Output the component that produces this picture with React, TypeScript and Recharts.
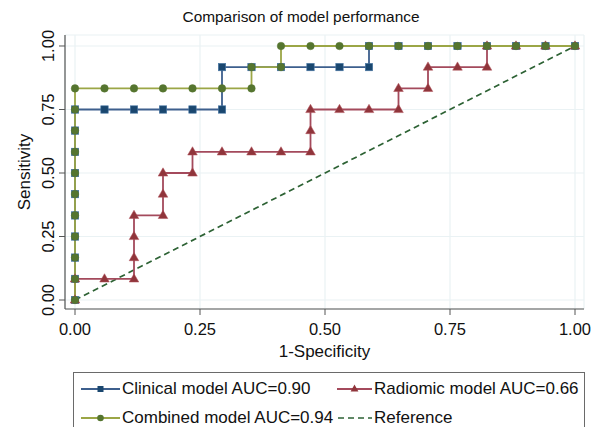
import React from 'react';
import { LineChart, Line, XAxis, YAxis, CartesianGrid, Legend, Customized } from 'recharts';

const FONT = '"Liberation Sans", Arial, Helvetica, sans-serif';

const TITLE = 'Comparison of model performance';
const X_LABEL = '1-Specificity';
const Y_LABEL = 'Sensitivity';
const TICKS = [0, 0.25, 0.5, 0.75, 1];

const clinicalFpr = [0, 0, 0, 0, 0, 0, 0, 0, 0, 0, 0.059, 0.118, 0.176, 0.235, 0.294, 0.294, 0.353, 0.412, 0.471, 0.529, 0.588, 0.588, 0.647, 0.706, 0.765, 0.824, 0.882, 0.941, 1];
const clinicalTpr = [0, 0.083, 0.167, 0.25, 0.333, 0.417, 0.5, 0.583, 0.667, 0.75, 0.75, 0.75, 0.75, 0.75, 0.75, 0.917, 0.917, 0.917, 0.917, 0.917, 0.917, 1, 1, 1, 1, 1, 1, 1, 1];

const radiomicFpr = [0, 0, 0.059, 0.118, 0.118, 0.118, 0.118, 0.176, 0.176, 0.176, 0.235, 0.235, 0.294, 0.353, 0.412, 0.471, 0.471, 0.471, 0.529, 0.588, 0.647, 0.647, 0.706, 0.706, 0.765, 0.824, 0.824, 0.882, 0.941, 1];
const radiomicTpr = [0, 0.083, 0.083, 0.083, 0.167, 0.25, 0.333, 0.333, 0.417, 0.5, 0.5, 0.583, 0.583, 0.583, 0.583, 0.583, 0.667, 0.75, 0.75, 0.75, 0.75, 0.833, 0.833, 0.917, 0.917, 0.917, 1, 1, 1, 1];

const combinedFpr = [0, 0, 0, 0, 0, 0, 0, 0, 0, 0, 0, 0.059, 0.118, 0.176, 0.235, 0.294, 0.353, 0.353, 0.412, 0.412, 0.471, 0.529, 0.588, 0.647, 0.706, 0.765, 0.824, 0.882, 0.941, 1];
const combinedTpr = [0, 0.083, 0.167, 0.25, 0.333, 0.417, 0.5, 0.583, 0.667, 0.75, 0.833, 0.833, 0.833, 0.833, 0.833, 0.833, 0.833, 0.917, 0.917, 1, 1, 1, 1, 1, 1, 1, 1, 1, 1, 1];

const referenceFpr = [0, 1];
const referenceTpr = [0, 1];

const zip = (xs: number[], ys: number[]) => xs.map((x, i) => ({ x, y: ys[i] }));

const clinicalData = zip(clinicalFpr, clinicalTpr);
const radiomicData = zip(radiomicFpr, radiomicTpr);
const combinedData = zip(combinedFpr, combinedTpr);
const referenceData = zip(referenceFpr, referenceTpr);

const COLORS = {
  clinicalLine: '#3d5f8d',
  clinicalMarker: '#1a476f',
  radiomicLine: '#a44a5c',
  radiomicMarker: '#90353b',
  combinedLine: '#9ba646',
  combinedMarker: '#55752f',
  reference: '#2d6234',
};

const LEGEND_ITEMS = [
  { label: 'Clinical model AUC=0.90', line: COLORS.clinicalLine, marker: COLORS.clinicalMarker, shape: 'square', col: 0, row: 0 },
  { label: 'Radiomic model AUC=0.66', line: COLORS.radiomicLine, marker: COLORS.radiomicMarker, shape: 'triangle', col: 1, row: 0 },
  { label: 'Combined model AUC=0.94', line: COLORS.combinedLine, marker: COLORS.combinedMarker, shape: 'circle', col: 0, row: 1 },
  { label: 'Reference', line: COLORS.reference, marker: '', shape: 'dash', col: 1, row: 1 },
];

const Marker = ({ shape, cx, cy, fill, stroke }: any) => {
  if (cx == null || cy == null) return null;
  if (shape === 'square') {
    return <rect x={cx - 3.7} y={cy - 3.7} width={7.4} height={7.4} fill={fill} stroke={stroke} strokeWidth={0.6} />;
  }
  if (shape === 'triangle') {
    return <polygon points={`${cx},${cy - 5.2} ${cx + 4.8},${cy + 3.1} ${cx - 4.8},${cy + 3.1}`} fill={fill} stroke={stroke} strokeWidth={0.5} />;
  }
  return <circle cx={cx} cy={cy} r={3.8} fill={fill} stroke={stroke} strokeWidth={0.4} />;
};

const makeDot = (shape: string, fill: string, stroke: string) => (props: any) => (
  <Marker key={`${shape}-${props.index}`} shape={shape} cx={props.cx} cy={props.cy} fill={fill} stroke={stroke} />
);

const YTick = (props: any) => {
  const { x, y, payload } = props;
  return (
    <text transform={`translate(${x - 3.5},${y}) rotate(-90)`} textAnchor="middle" fontFamily={FONT} fontSize={16.5} fill="#111">
      {Number(payload.value).toFixed(2)}
    </text>
  );
};

const XTick = (props: any) => {
  const { x, y, payload } = props;
  return (
    <text x={x} y={y + 18} textAnchor="middle" fontFamily={FONT} fontSize={16.5} fill="#111">
      {Number(payload.value).toFixed(2)}
    </text>
  );
};

const LegendBox = () => (
  <div
    style={{
      width: 512,
      height: 62,
      border: '1px solid #6a6a6a',
      boxSizing: 'border-box',
      position: 'relative',
      background: '#fff',
      fontFamily: FONT,
      fontSize: 17,
      color: '#111',
    }}
  >
    {LEGEND_ITEMS.map((it) => {
      const left = it.col === 0 ? 7 : 263;
      const symW = it.col === 0 ? 39 : 35;
      const top = it.row === 0 ? 6 : 35;
      return (
        <div key={it.label} style={{ position: 'absolute', left, top, height: 20, display: 'flex', alignItems: 'center', whiteSpace: 'nowrap' }}>
          <svg width={symW} height={20} style={{ display: 'block' }}>
            {it.shape === 'dash' ? (
              <line x1={1} y1={10} x2={symW} y2={10} stroke={it.line} strokeWidth={1.6} strokeDasharray="6 4" />
            ) : (
              <>
                <line x1={0} y1={10} x2={symW} y2={10} stroke={it.line} strokeWidth={1.8} />
                {it.shape === 'square' && <rect x={symW / 2 - 3} y={7} width={6} height={6} fill={it.marker} />}
                {it.shape === 'triangle' && <polygon points={`${symW / 2},${5.6} ${symW / 2 + 3.9},${12.4} ${symW / 2 - 3.9},${12.4}`} fill={it.marker} />}
                {it.shape === 'circle' && <circle cx={symW / 2} cy={10} r={3.3} fill={it.marker} />}
              </>
            )}
          </svg>
          <span style={{ marginLeft: 2, lineHeight: '20px' }}>{it.label}</span>
        </div>
      );
    })}
  </div>
);

const Title = () => (
  <text x={301} y={22} textAnchor="middle" fontFamily={FONT} fontSize={15.4} fill="#111">
    {TITLE}
  </text>
);

export default function App() {
  return (
    <div style={{ position: 'absolute', left: 0, top: 0, width: 602, height: 427, background: '#fff', overflow: 'hidden' }}>
      <LineChart width={602} height={427} margin={{ top: 35, right: 18, bottom: 0, left: 0 }}>
        <CartesianGrid stroke="#eaf2f4" strokeWidth={1.2} />
        <XAxis
          type="number"
          dataKey="x"
          domain={[-0.02, 1.018]}
          ticks={TICKS}
          allowDataOverflow
          height={118}
          tickSize={6}
          tickMargin={2}
          stroke="#555"
          tickLine={{ stroke: '#555' }}
          axisLine={{ stroke: '#555', strokeWidth: 1.2 }}
          tick={<XTick />}
          label={(p: any) => {
            const vb = p.viewBox || { x: 65, y: 309, width: 519 };
            return (
              <text x={vb.x + vb.width / 2} y={vb.y + 48} textAnchor="middle" fontFamily={FONT} fontSize={17} fill="#111">
                {X_LABEL}
              </text>
            );
          }}
        />
        <YAxis
          type="number"
          dataKey="y"
          domain={[-0.0354, 1.0433]}
          ticks={TICKS}
          allowDataOverflow
          width={65}
          tickSize={6}
          tickMargin={2}
          stroke="#555"
          tickLine={{ stroke: '#555' }}
          axisLine={{ stroke: '#555', strokeWidth: 1.2 }}
          tick={<YTick />}
          label={(p: any) => {
            const vb = p.viewBox || { x: 0, y: 35, width: 65, height: 274 };
            return (
              <text transform={`translate(30,${vb.y + vb.height / 2}) rotate(-90)`} textAnchor="middle" fontFamily={FONT} fontSize={17} fill="#111">
                {Y_LABEL}
              </text>
            );
          }}
        />
        <Line
          data={referenceData}
          dataKey="y"
          type="linear"
          stroke={COLORS.reference}
          strokeWidth={1.7}
          strokeDasharray="6 4"
          dot={false}
          activeDot={false}
          isAnimationActive={false}
          legendType="none"
        />
        <Line
          data={clinicalData}
          dataKey="y"
          type="linear"
          stroke={COLORS.clinicalLine}
          strokeWidth={1.8}
          dot={makeDot('square', COLORS.clinicalMarker, '#4a78a6')}
          activeDot={false}
          isAnimationActive={false}
        />
        <Line
          data={radiomicData}
          dataKey="y"
          type="linear"
          stroke={COLORS.radiomicLine}
          strokeWidth={1.8}
          dot={makeDot('triangle', COLORS.radiomicMarker, '#b0505a')}
          activeDot={false}
          isAnimationActive={false}
        />
        <Line
          data={combinedData}
          dataKey="y"
          type="linear"
          stroke={COLORS.combinedLine}
          strokeWidth={1.8}
          dot={makeDot('circle', COLORS.combinedMarker, '#55752f')}
          activeDot={false}
          isAnimationActive={false}
        />
        <Legend
          layout="horizontal"
          verticalAlign="middle"
          align="center"
          content={() => <LegendBox />}
          wrapperStyle={{ position: 'absolute', left: 73, top: 372, width: 512, height: 62 }}
        />
        <Customized component={Title} />
      </LineChart>
    </div>
  );
}
